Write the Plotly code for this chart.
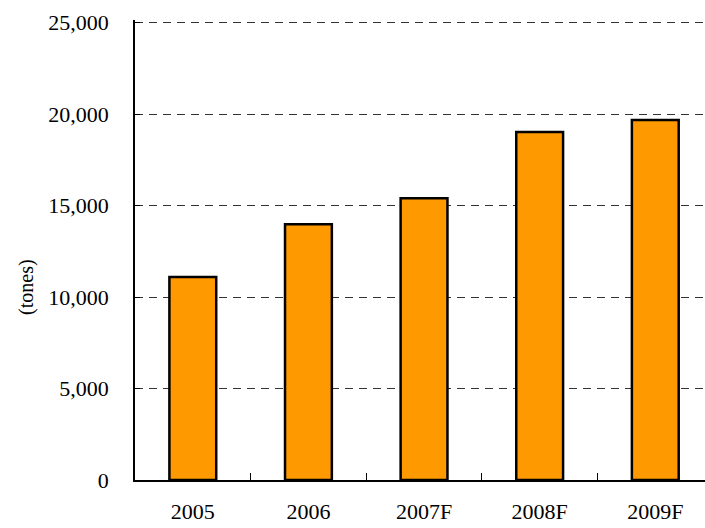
import plotly.graph_objects as go

categories = ["2005", "2006", "2007F", "2008F", "2009F"]
values = [11100, 13980, 15400, 19030, 19680]
y_ticks = [0, 5000, 10000, 15000, 20000, 25000]
y_tick_labels = ["0", "5,000", "10,000", "15,000", "20,000", "25,000"]

FAMILY = "'Liberation Serif', 'Times New Roman', Times, serif"
font = dict(family=FAMILY, size=22, color="#000000")

fig = go.Figure(
    go.Bar(
        x=categories,
        y=values,
        width=0.405,
        marker=dict(color="#FF9900", line=dict(color="#000000", width=2.5)),
    )
)

fig.update_layout(
    width=705,
    height=528,
    margin=dict(l=135, r=0, t=20, b=48, autoexpand=False),
    paper_bgcolor="white",
    plot_bgcolor="white",
    font=font,
    showlegend=False,
    annotations=[
        dict(
            text="(tones)",
            textangle=-90,
            xref="paper",
            yref="paper",
            x=-0.213,
            y=0.42,
            showarrow=False,
            font=dict(family=FAMILY, size=20, color="#000000"),
        )
    ],
)

fig.update_xaxes(
    type="category",
    range=[-0.5, 4.43],
    automargin=False,
    showline=True,
    linecolor="#000000",
    linewidth=1.5,
    ticks="inside",
    tickson="boundaries",
    ticklen=7,
    tickcolor="#000000",
    tickwidth=1.2,
    showgrid=False,
    ticklabelstandoff=11,
    tickfont=font,
)

fig.update_yaxes(
    range=[0, 25150],
    automargin=False,
    tickvals=y_ticks,
    ticktext=y_tick_labels,
    showline=True,
    linecolor="#000000",
    linewidth=1.5,
    ticks="inside",
    ticklen=5,
    tickcolor="#000000",
    showgrid=True,
    gridcolor="#333333",
    gridwidth=1,
    griddash="8px,6px",
    zeroline=False,
    ticklabelstandoff=20,
    tickfont=font,
)

fig.write_html("out.html")
